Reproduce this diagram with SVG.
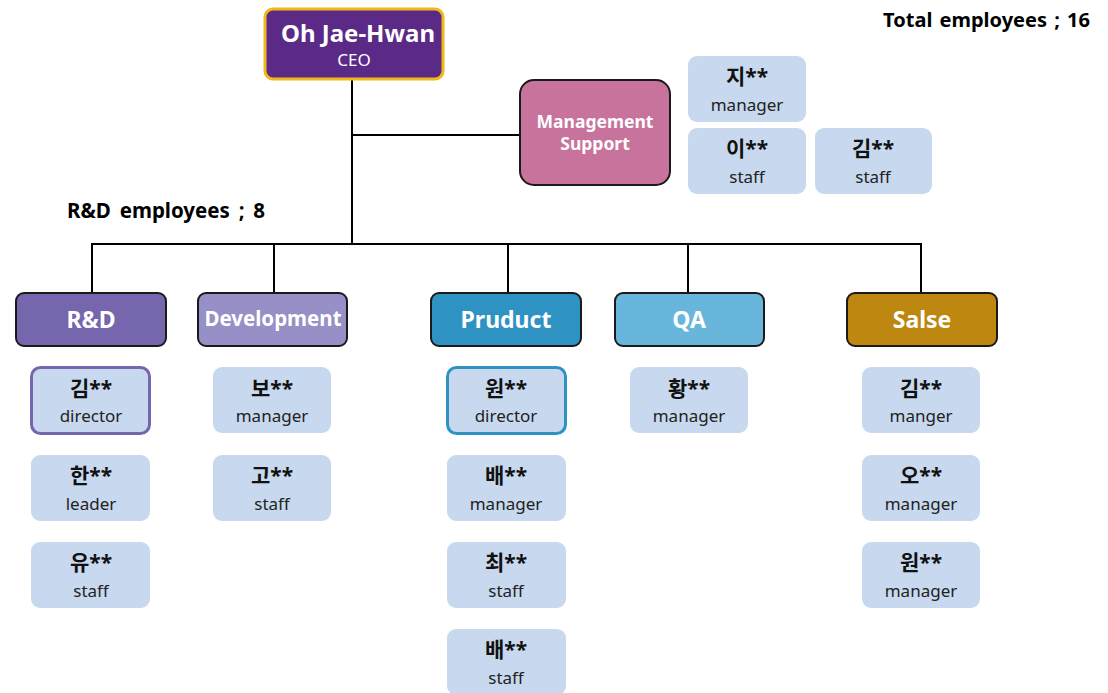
<svg xmlns="http://www.w3.org/2000/svg" width="1108" height="693" viewBox="0 0 1108 693">
<style>
text{font-family:"Noto Sans","Noto Sans CJK KR",sans-serif;text-anchor:middle}
.dept{stroke:#1a1a1a;stroke-width:2}
.dt{fill:#fff;font-weight:bold;font-size:23px}
.m{fill:#c8d9ef}
.nm{font-weight:bold;font-size:21px;fill:#111}
.rl{font-size:17px;fill:#222}
.ln{stroke:#000;stroke-width:2;fill:none}
.lab{font-weight:bold;font-size:20px;fill:#000;word-spacing:2px}
</style>
<rect width="1108" height="693" fill="#fff"/>
<g id="connectors">
<path class="ln" d="M352 79V244M352 135H520M92 244H921M92 243V293M274 243V293M508 243V293M688 243V293M921 243V293"/>
</g>
<g id="ceo">
<rect x="265" y="9" width="178" height="70" rx="8" fill="#5b2a86" stroke="#f2b71a" stroke-width="3"/>
<text x="358" y="42" fill="#fff" font-weight="bold" font-size="24">Oh Jae-Hwan</text>
<text x="354" y="66" fill="#fff" font-size="17">CEO</text>
</g>
<text x="1090" y="27" class="lab" style="text-anchor:end">Total employees ; 16</text>
<text x="67" y="218" class="lab" style="text-anchor:start;font-size:20.5px;word-spacing:3.5px">R&amp;D employees ; 8</text>
<g id="mgmt">
<rect x="520" y="80" width="150" height="105" rx="14" fill="#c8739c" class="dept"/>
<text x="595" y="128" fill="#fff" font-weight="bold" font-size="17.5">Management</text>
<text x="595" y="150" fill="#fff" font-weight="bold" font-size="17.5">Support</text>
</g>
<g id="m-ji"><rect class="m" x="688" y="56" width="118" height="66" rx="9"/><text class="nm" x="747" y="84">지**</text><text class="rl" x="747" y="111">manager</text></g>
<g id="m-lee"><rect class="m" x="688" y="128" width="118" height="66" rx="9"/><text class="nm" x="747" y="156">이**</text><text class="rl" x="747" y="183">staff</text></g>
<g id="m-kim"><rect class="m" x="815" y="128" width="117" height="66" rx="9"/><text class="nm" x="873" y="156">김**</text><text class="rl" x="873" y="183">staff</text></g>
<g id="rd"><rect class="dept" x="16" y="293" width="150" height="53" rx="8" fill="#7566ae"/><text class="dt" x="91" y="328">R&amp;D</text></g>
<g id="dev"><rect class="dept" x="198" y="293" width="149" height="53" rx="8" fill="#9690c6"/><text class="dt" x="273" y="326" style="font-size:20.5px">Development</text></g>
<g id="prod"><rect class="dept" x="431" y="293" width="150" height="53" rx="8" fill="#2e93c2"/><text class="dt" x="506" y="328">Pruduct</text></g>
<g id="qa"><rect class="dept" x="615" y="293" width="149" height="53" rx="8" fill="#68b6dc"/><text class="dt" x="689" y="328">QA</text></g>
<g id="sales"><rect class="dept" x="847" y="293" width="150" height="53" rx="8" fill="#be870f"/><text class="dt" x="922" y="328">Salse</text></g>
<g id="rd-kim"><rect class="m" x="31.5" y="367.5" width="118" height="66" rx="9" stroke="#7566ae" stroke-width="3"/><text class="nm" x="91" y="396">김**</text><text class="rl" x="91" y="422">director</text></g>
<g id="rd-han"><rect class="m" x="31" y="455" width="119" height="66" rx="9"/><text class="nm" x="91" y="483">한**</text><text class="rl" x="91" y="510">leader</text></g>
<g id="rd-yu"><rect class="m" x="31" y="542" width="119" height="66" rx="9"/><text class="nm" x="91" y="570">유**</text><text class="rl" x="91" y="597">staff</text></g>
<g id="dev-bo"><rect class="m" x="213" y="367" width="118" height="66" rx="9"/><text class="nm" x="272" y="396">보**</text><text class="rl" x="272" y="422">manager</text></g>
<g id="dev-go"><rect class="m" x="213" y="455" width="118" height="66" rx="9"/><text class="nm" x="272" y="483">고**</text><text class="rl" x="272" y="510">staff</text></g>
<g id="prod-won"><rect class="m" x="447.5" y="367.5" width="118" height="66" rx="9" stroke="#2e93c2" stroke-width="3"/><text class="nm" x="506" y="396">원**</text><text class="rl" x="506" y="422">director</text></g>
<g id="prod-bae1"><rect class="m" x="447" y="455" width="119" height="66" rx="9"/><text class="nm" x="506" y="483">배**</text><text class="rl" x="506" y="510">manager</text></g>
<g id="prod-choi"><rect class="m" x="447" y="542" width="119" height="66" rx="9"/><text class="nm" x="506" y="570">최**</text><text class="rl" x="506" y="597">staff</text></g>
<g id="prod-bae2"><rect class="m" x="447" y="629" width="119" height="66" rx="9"/><text class="nm" x="506" y="657">배**</text><text class="rl" x="506" y="684">staff</text></g>
<g id="qa-hwang"><rect class="m" x="630" y="367" width="118" height="66" rx="9"/><text class="nm" x="689" y="396">황**</text><text class="rl" x="689" y="422">manager</text></g>
<g id="s-kim"><rect class="m" x="862" y="367" width="118" height="66" rx="9"/><text class="nm" x="921" y="396">김**</text><text class="rl" x="921" y="422">manger</text></g>
<g id="s-oh"><rect class="m" x="862" y="455" width="118" height="66" rx="9"/><text class="nm" x="921" y="483">오**</text><text class="rl" x="921" y="510">manager</text></g>
<g id="s-won"><rect class="m" x="862" y="542" width="118" height="66" rx="9"/><text class="nm" x="921" y="570">원**</text><text class="rl" x="921" y="597">manager</text></g>
</svg>
